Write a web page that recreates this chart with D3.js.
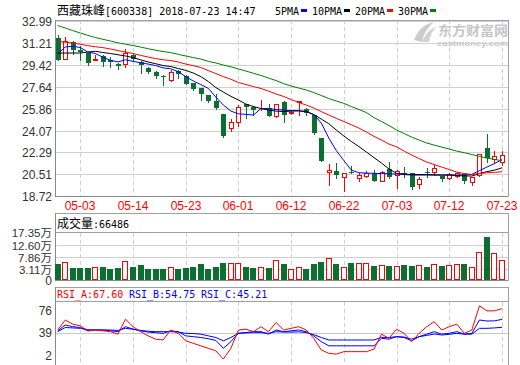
<!DOCTYPE html>
<html><head><meta charset="utf-8">
<script src="https://cdn.jsdelivr.net/npm/d3@7"></script>
<style>body{margin:0;background:#fff}svg{display:block}</style>
</head><body>
<svg id="c" width="520" height="365"></svg>
<script>
const dates = ["04-26","04-27","05-02","05-03","05-04","05-07","05-08","05-09","05-10","05-11","05-14","05-15","05-16","05-17","05-18","05-21","05-22","05-23","05-24","05-25","05-28","05-29","05-30","05-31","06-01","06-04","06-05","06-06","06-07","06-08","06-11","06-12","06-13","06-14","06-15","06-19","06-20","06-21","06-22","06-25","06-26","06-27","06-28","06-29","07-02","07-03","07-04","07-05","07-06","07-09","07-10","07-11","07-12","07-13","07-16","07-17","07-18","07-19","07-20","07-23"];
const open  = [31.61,29.93,31.29,30.66,30.39,29.85,30.12,29.82,29.49,29.47,30.23,29.68,29.14,28.87,28.54,28.19,28.92,28.52,27.92,27.51,26.97,26.48,25.39,24.25,24.74,26.21,26.01,25.98,25.88,25.26,26.42,25.48,26.38,25.83,25.34,23.44,20.67,20.77,20.26,20.72,20.18,20.37,20.64,19.98,20.91,20.45,20.60,20.59,19.74,20.71,20.67,20.34,20.18,20.34,20.55,19.90,20.45,22.62,21.74,21.53];
const high  = [31.88,31.67,31.39,30.94,30.42,30.20,30.25,30.09,29.60,30.69,30.31,29.72,29.22,28.95,28.60,29.00,29.00,28.60,27.95,27.55,27.00,27.02,25.42,24.99,26.15,26.25,26.05,26.56,26.20,26.25,26.50,25.70,26.52,25.90,25.36,23.46,21.34,21.42,20.62,21.18,20.60,20.80,20.90,20.80,21.53,20.85,21.12,20.62,20.31,20.99,21.26,20.36,20.59,20.67,20.58,20.30,22.16,23.79,22.38,22.40];
const low   = [29.80,29.88,30.28,29.84,29.44,29.84,29.31,29.25,29.06,29.22,29.76,28.78,28.78,28.33,27.78,28.13,28.33,27.85,27.40,26.56,26.40,25.80,23.55,24.03,24.47,25.07,25.34,25.75,25.24,25.20,24.79,25.40,25.34,25.35,23.80,21.60,19.60,20.20,19.17,20.59,19.97,20.30,19.95,19.95,20.18,19.36,20.31,19.28,19.36,20.31,20.45,19.97,20.10,20.30,19.82,19.63,20.40,21.53,21.45,21.30];
const close = [29.84,31.34,30.66,30.47,29.58,29.88,29.66,29.63,29.33,30.37,29.88,29.41,28.87,28.54,28.41,28.87,28.65,27.86,27.46,27.02,26.48,25.88,23.63,24.74,26.01,26.01,25.75,26.01,25.28,26.23,25.34,25.61,26.48,25.48,23.85,21.61,20.85,20.45,20.59,20.70,20.45,20.59,19.98,20.72,20.26,20.80,20.58,19.49,20.14,20.69,20.99,20.14,20.52,20.60,19.98,20.26,22.14,21.85,22.03,22.10];
const ma5  = [30.31,30.88,30.94,30.84,30.47,30.35,30.04,29.80,29.66,29.84,29.71,29.60,29.49,29.37,29.18,29.11,28.87,28.47,28.11,27.82,27.51,26.80,26.15,25.66,25.44,25.39,25.34,25.87,25.87,25.79,25.74,25.70,25.69,25.62,25.38,24.69,23.46,22.44,21.63,20.85,20.64,20.61,20.59,20.57,20.55,20.53,20.49,20.45,20.45,20.45,20.45,20.45,20.45,20.45,20.46,20.50,20.81,21.10,21.39,21.71];
const ma10 = [30.39,30.39,30.39,30.39,30.47,30.53,30.43,30.35,30.25,30.15,30.02,29.84,29.66,29.52,29.37,29.29,29.13,28.98,28.76,28.47,28.07,27.58,27.21,26.86,26.56,26.23,26.03,25.87,25.74,25.66,25.62,25.66,25.68,25.62,25.38,25.01,24.63,24.12,23.63,23.18,22.77,22.32,21.87,21.43,20.94,20.59,20.53,20.49,20.49,20.49,20.47,20.45,20.45,20.41,20.38,20.37,20.57,20.73,20.85,21.04];
const ma20 = [31.34,31.27,31.21,31.10,30.99,30.90,30.83,30.72,30.59,30.47,30.35,30.20,30.06,29.94,29.84,29.78,29.66,29.49,29.36,29.21,28.96,28.72,28.47,28.25,27.99,27.82,27.66,27.50,27.29,27.05,26.85,26.60,26.37,26.15,25.91,25.62,25.34,25.07,24.81,24.55,24.28,23.95,23.60,23.30,22.97,22.75,22.40,22.08,21.79,21.51,21.30,21.10,20.90,20.69,20.57,20.50,20.57,20.64,20.67,20.72];
const ma30 = [32.63,32.43,32.22,32.02,31.83,31.65,31.51,31.37,31.22,31.11,31.00,30.88,30.74,30.62,30.51,30.43,30.28,30.15,30.02,29.90,29.71,29.58,29.41,29.27,29.09,28.92,28.74,28.56,28.35,28.15,27.90,27.70,27.54,27.38,27.17,26.93,26.68,26.48,26.29,26.03,25.79,25.54,25.13,24.81,24.48,24.12,23.83,23.54,23.30,23.06,22.89,22.73,22.57,22.40,22.27,22.12,21.97,21.83,21.73,21.61];
const volume = [5.15,5.81,3.73,3.73,3.73,3.88,4.12,3.35,3.73,6.31,4.12,4.77,3.35,3.35,3.35,3.88,3.35,3.73,4.12,5.15,3.23,4.12,5.54,5.54,5.54,4.00,3.60,4.12,3.50,6.69,5.15,3.23,4.12,3.23,5.15,5.81,7.35,5.15,3.88,5.42,5.42,5.42,4.38,4.65,4.38,4.38,4.77,4.38,4.65,4.00,5.04,4.38,4.65,5.04,5.15,3.88,9.65,15.65,9.27,6.6486];
const rsiA = [42,54,49,47,41,42,41,40,37,55,46,40,35,31,30,42,38,29,26,23,20,17,7,20,42,43,40,46,40,51,42,44,46,42,32,18,14,13,16,16,16,16,19,37,32,43,38,28,38,46,52,42,46,49,38,42,71,65,65,67.6];
const rsiB = [41,48,46,45,41,42,42,41,40,46,43,41,39.5,38.8,38,41,40,35,34,33,31.5,29.5,20,28,38,39,40,40,37,42,40,41,42,40,35,28,23,23,23,23,23,23,23,32,31,34,33,29,34,37,40,37,38,40,37,38,54,52.8,53,54.75];
const rsiC = [40,45,44.5,44,42.5,42,42,42,41.5,44,43,41.5,40.5,40,40,40,39.5,38,37.8,37,35,33,29,33,38,38.5,38.8,38.8,38,40,39.5,39.5,39.8,39,36.5,33,30,30,30,30,30,30,30,33.2,33,34,33.5,31,34,35.5,37.2,36,36.8,38,37,37,44,44,44.5,45.21];
const priceTicks = [32.99,31.21,29.42,27.64,25.86,24.07,22.29,20.51,18.72];
const dateTicks = ["05-03","05-14","05-23","06-01","06-12","06-22","07-03","07-12","07-23"];
const volTicks = [17.35,12.60,7.86,3.11];
const rsiTicks = [76,39,2];
const maNames = ["5PMA","10PMA","20PMA","30PMA"];
const maColors = ["#0000ff","#000000","#ff0000","#008000"];

const svg = d3.select("#c");
const L = 55, R = 508;
const GREEN = "#0b6f32", RED = "#ff0000";
const GRID = "#d0d0d0", FRAME = "#a0a0a0";
const sans = "'Liberation Sans',Arial,sans-serif";

const x = d3.scalePoint().domain(dates).range([57.7, 502]);
const cx = d => Math.round(x(d));
const yP = d3.scaleLinear().domain([18.72, 32.99]).range([196.3, 21.1]);
const yV = d3.scaleLinear().domain([-1.0, 17.35]).range([280, 232.3]);
const yR = d3.scaleLinear().domain([2, 76]).range([363.3, 301.7]);

function txtLen(s){ let w=0; for(const ch of s){ w += ch.charCodeAt(0)>255 ? 12 : 6; } return w; }
// SimSun-like text: CJK runs at 12px, ASCII runs at 10px monospace (6px per char)
function monoText(g, s, tx, ty, color){
  const t = g.append("text").attr("x",tx).attr("y",ty).attr("fill",color);
  const runs = [];
  for(const ch of s){
    const cjk = ch.charCodeAt(0)>255;
    if(runs.length && runs[runs.length-1].cjk===cjk) runs[runs.length-1].s += ch;
    else runs.push({cjk, s:ch});
  }
  runs.forEach(r=>{
    t.append("tspan").attr("font-family", r.cjk ? "'Noto Sans CJK SC'" : "'DejaVu Sans Mono',monospace")
      .attr("font-size", r.cjk ? 12 : 10).text(r.s);
  });
  return t;
}

// ---------- Title & legend ----------
monoText(svg, "西藏珠峰[600338] 2018-07-23 14:47", 57, 14.5, "#000");
let lx = 275;
maNames.forEach((n,i)=>{
  monoText(svg, n, lx, 14.5, "#000");
  lx += txtLen(n) + 2;
  svg.append("rect").attr("x",lx).attr("y",9).attr("width",6).attr("height",3).attr("fill",maColors[i]);
  lx += 6 + 5;
});

// ---------- Watermark ----------
const wm = svg.append("g").attr("fill","#c6c6c6");
wm.append("path").attr("d","M414,40 C418,30 424,24 434,22 C428,27 424,33 422,42 Z").attr("opacity",0.9);
wm.append("path").attr("d","M422,42 C426,33 430,29 436,27 C432,31 430,36 429,42 Z").attr("opacity",0.8);
wm.append("text").attr("x",438).attr("y",35).attr("font-family","'Noto Sans CJK SC'").attr("font-weight","bold")
  .attr("font-size",13).attr("textLength",70).attr("lengthAdjust","spacingAndGlyphs").text("东方财富网");
wm.append("text").attr("x",437).attr("y",45.5).attr("font-family",sans).attr("font-weight","bold")
  .attr("font-size",8).attr("textLength",71).attr("lengthAdjust","spacingAndGlyphs").text("eastmoney.com");

// ---------- Price panel ----------
const gp = svg.append("g");
priceTicks.forEach(v=>{
  const yy = Math.round(yP(v))+0.5;
  gp.append("line").attr("x1",L).attr("x2",R).attr("y1",yy).attr("y2",yy).attr("stroke",GRID);
  gp.append("text").attr("x",52).attr("y",yy+4.5).attr("text-anchor","end").attr("font-family",sans)
    .attr("font-size",12).attr("fill","#333").text(v.toFixed(2));
});
dateTicks.forEach(d=>{
  const xx = cx(d)+0.5;
  gp.append("line").attr("x1",xx).attr("x2",xx).attr("y1",20).attr("y2",196).attr("stroke",GRID).attr("stroke-dasharray","4,3");
  svg.append("line").attr("x1",xx).attr("x2",xx).attr("y1",233).attr("y2",280).attr("stroke",GRID).attr("stroke-dasharray","4,3");
  svg.append("line").attr("x1",xx).attr("x2",xx).attr("y1",302).attr("y2",364).attr("stroke",GRID).attr("stroke-dasharray","4,3");
  svg.append("text").attr("x",cx(d)).attr("y",209.5).attr("text-anchor","middle").attr("font-family",sans)
    .attr("font-size",12).attr("fill",RED).text(d);
});
gp.append("line").attr("x1",L).attr("x2",R+0.5).attr("y1",20.5).attr("y2",20.5).attr("stroke",FRAME);
gp.append("line").attr("x1",R+0.5).attr("x2",R+0.5).attr("y1",20).attr("y2",196).attr("stroke",FRAME);
gp.append("line").attr("x1",L).attr("x2",R+0.5).attr("y1",196.5).attr("y2",196.5).attr("stroke","#888");
gp.append("line").attr("x1",L+0.5).attr("x2",L+0.5).attr("y1",20).attr("y2",197).attr("stroke","#888");

// candles
const cd = svg.append("g");
dates.forEach((d,i)=>{
  const up = close[i] >= open[i];
  const col = up ? RED : GREEN;
  const c = cx(d);
  cd.append("line").attr("x1",c+0.5).attr("x2",c+0.5).attr("y1",Math.round(yP(high[i]))).attr("y2",Math.round(yP(low[i]))+1).attr("stroke",col);
  const top = Math.round(yP(Math.max(open[i],close[i])));
  const bot = Math.round(yP(Math.min(open[i],close[i])));
  if(up){
    const h = Math.max(bot-top,0);
    cd.append("rect").attr("x",c-1.5).attr("y",top+0.5).attr("width",4).attr("height",h).attr("fill","#fff").attr("stroke",col);
  } else {
    cd.append("rect").attr("x",c-2).attr("y",top).attr("width",5).attr("height",Math.max(bot-top,1)).attr("fill",col);
  }
});
// MA lines
[ma5,ma10,ma20,ma30].forEach((arr,k)=>{
  const line = d3.line().x((v,i)=>x(dates[i])).y(v=>yP(v));
  svg.append("path").attr("d",line(arr)).attr("fill","none").attr("stroke",maColors[k]).attr("stroke-width",1);
});

// ---------- Volume panel ----------
const gv = svg.append("g");
volTicks.forEach(v=>{
  const yy = Math.round(yV(v))+0.5;
  gv.append("line").attr("x1",L).attr("x2",R).attr("y1",yy).attr("y2",yy).attr("stroke",GRID);
  gv.append("text").attr("x",52).attr("y",yy+4).attr("text-anchor","end").attr("font-family","'Liberation Sans','Noto Sans CJK SC',sans-serif")
    .attr("font-size",11.5).attr("fill","#333").text(v.toFixed(2)+"万");
});
gv.append("text").attr("x",52).attr("y",285).attr("text-anchor","end").attr("font-family",sans).attr("font-size",12).attr("fill","#333").text("0");
gv.append("rect").attr("x",L+0.5).attr("y",213.5).attr("width",R-L).attr("height",19).attr("fill","none").attr("stroke",FRAME);
gv.append("line").attr("x1",R+0.5).attr("x2",R+0.5).attr("y1",213).attr("y2",280).attr("stroke",FRAME);
gv.append("line").attr("x1",L).attr("x2",R+0.5).attr("y1",280.5).attr("y2",280.5).attr("stroke","#888");
gv.append("line").attr("x1",L+0.5).attr("x2",L+0.5).attr("y1",213).attr("y2",281).attr("stroke","#888");
monoText(svg, "成交量:" + Math.round(volume[volume.length-1]*10000), 57, 227.5, "#000");
dates.forEach((d,i)=>{
  const up = close[i] >= open[i];
  const c = cx(d);
  const top = Math.round(yV(volume[i]));
  if(up){
    gv.append("rect").attr("x",c-2.5).attr("y",top+0.5).attr("width",5).attr("height",280-top-1).attr("fill","#fff").attr("stroke",RED);
  } else {
    gv.append("rect").attr("x",c-3).attr("y",top).attr("width",6).attr("height",280-top).attr("fill",GREEN);
  }
});

// ---------- RSI panel ----------
const gr = svg.append("g");
gr.append("line").attr("x1",L).attr("x2",R).attr("y1",Math.round(yR(39))+0.5).attr("y2",Math.round(yR(39))+0.5).attr("stroke","#c8c8c8");
rsiTicks.forEach((v,k)=>{
  const off = k===0 ? 8.5 : (k===2 ? -8 : 0);
  gr.append("text").attr("x",52).attr("y",yR(v)+off+4.5).attr("text-anchor","end").attr("font-family",sans)
    .attr("font-size",12).attr("fill","#333").text(v);
});
gr.append("rect").attr("x",L+0.5).attr("y",287.5).attr("width",R-L).attr("height",14).attr("fill","none").attr("stroke",FRAME);
gr.append("line").attr("x1",R+0.5).attr("x2",R+0.5).attr("y1",287).attr("y2",365).attr("stroke",FRAME);
gr.append("line").attr("x1",L+0.5).attr("x2",L+0.5).attr("y1",287).attr("y2",365).attr("stroke","#888");
monoText(svg, "RSI_A:" + rsiA[rsiA.length-1].toFixed(2), 57, 297.5, RED);
monoText(svg, "RSI_B:" + rsiB[rsiB.length-1].toFixed(2), 129, 297.5, "#0000ff");
monoText(svg, "RSI_C:" + rsiC[rsiC.length-1].toFixed(2), 201, 297.5, "#0000ff");
[[rsiC,"#0000ff"],[rsiB,"#0000ff"],[rsiA,RED]].forEach(([arr,col])=>{
  const line = d3.line().x((v,i)=>x(dates[i])).y(v=>yR(v));
  gr.append("path").attr("d",line(arr)).attr("fill","none").attr("stroke",col).attr("stroke-width",1);
});
</script>
</body></html>
